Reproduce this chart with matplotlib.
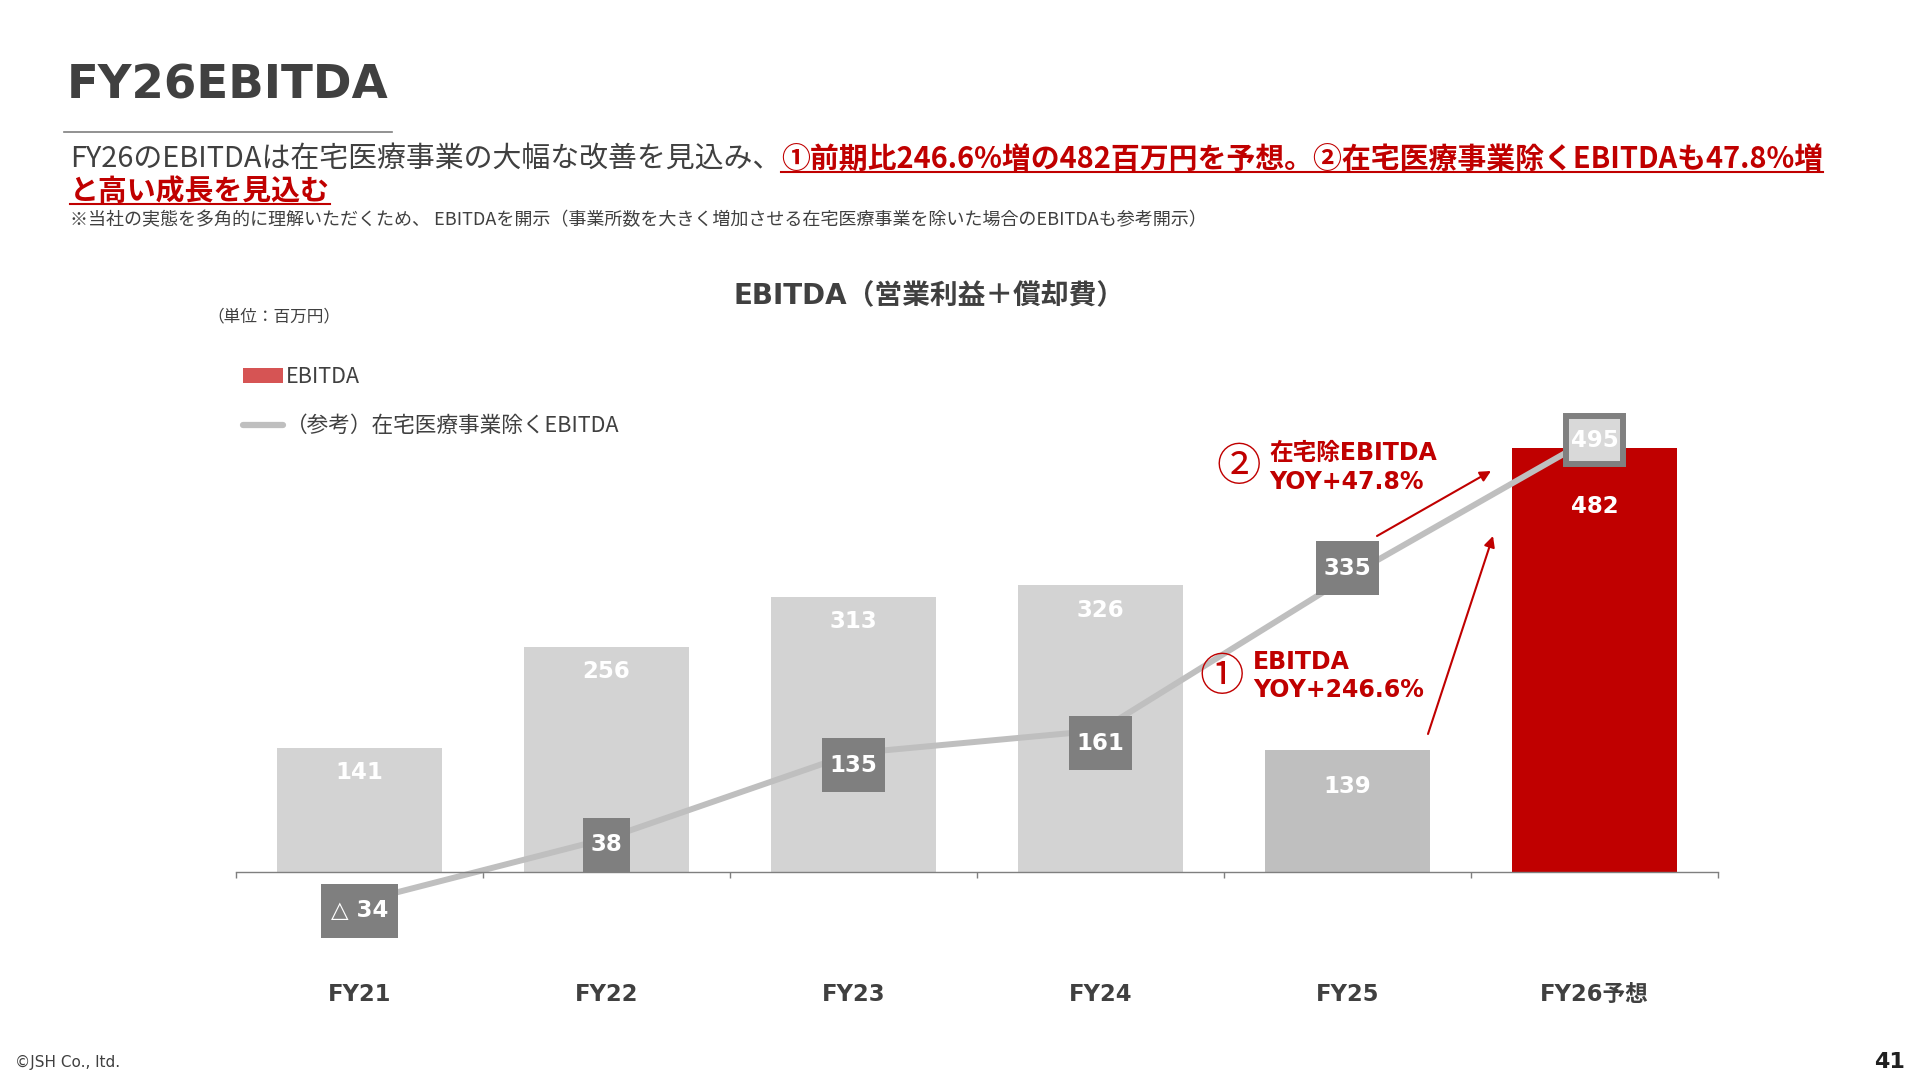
import matplotlib.pyplot as plt
from matplotlib.patches import Patch, Rectangle
from matplotlib.lines import Line2D

plt.rcParams['font.family'] = ['DejaVu Sans', 'Noto Sans CJK JP']
JP = ['Noto Sans CJK JP', 'DejaVu Sans']

# データ（単位：百万円）
years = ['FY21', 'FY22', 'FY23', 'FY24', 'FY25', 'FY26予想']
ebitda = [141, 256, 313, 326, 139, 482]
ex_home = [-34, 38, 135, 161, 335, 495]  # 在宅医療事業除くEBITDA
ex_home_labels = ['△ 34', '38', '135', '161', '335', '495']

bar_colors = ['#D3D3D3', '#D3D3D3', '#D3D3D3', '#D3D3D3', '#BFBFBF', '#C00000']
bar_label_drop = [25, 25, 25, 25, 37, 59]  # 棒の上端からラベル中心まで（px）
box_shift = [9, 6, 12, 13, -9, 4]  # ラベルボックスのずれ（px、下向き+）

W, H = 1920, 1080


def fx(px):
    return px / W


def fy(py):
    return 1 - py / H


fig = plt.figure(figsize=(19.2, 10.8), dpi=100)

# 軸の配置（ピクセル）
ax_l, ax_r = 236, 1718
y_zero, ppu = 872, 0.88  # 0の位置と1百万円あたりのpx
ymin, ymax = -90, 540
ax_top = y_zero - ymax * ppu
ax_bot = y_zero - ymin * ppu
ax = fig.add_axes([fx(ax_l), fy(ax_bot), (ax_r - ax_l) / W, (ax_bot - ax_top) / H])
ax.set_xlim(-0.5, 5.5)
ax.set_ylim(ymin, ymax)
ppx = (ax_r - ax_l) / 6  # 1カテゴリあたりのpx

x = list(range(len(years)))
ax.bar(x, ebitda, width=0.665, color=bar_colors, zorder=1)
ax.plot(x, ex_home, color='#BFBFBF', lw=4.3, zorder=2, solid_capstyle='butt')

# 棒のラベル
for i, v in enumerate(ebitda):
    ax.annotate(str(v), (i, v), xytext=(0, -bar_label_drop[i] * 0.72),
                textcoords='offset points', ha='center', va='center',
                color='white', fontsize=16.5, fontweight='bold', zorder=3)

# 在宅除EBITDAのラベルボックス
for i, v in enumerate(ex_home):
    lab = ex_home_labels[i]
    w_px = 18 + 14.7 * len(lab)
    h_px = 54
    cy = v - box_shift[i] / ppu
    if i == len(ex_home) - 1:
        rect = Rectangle((i - (w_px - 6) / 2 / ppx, cy - (h_px - 6) / 2 / ppu),
                         (w_px - 6) / ppx, (h_px - 6) / ppu,
                         facecolor='#D9D9D9', edgecolor='#808080', lw=4.3, zorder=4)
    else:
        rect = Rectangle((i - w_px / 2 / ppx, cy - h_px / 2 / ppu), w_px / ppx, h_px / ppu,
                         facecolor='#7F7F7F', edgecolor='none', zorder=4)
    ax.add_patch(rect)
    ax.text(i, cy, lab, ha='center', va='center', color='white',
            fontsize=16.5, fontweight='bold', zorder=5)

# 軸
for s in ['top', 'right', 'left']:
    ax.spines[s].set_visible(False)
ax.spines['bottom'].set_position(('data', 0))
ax.spines['bottom'].set_color('#7F7F7F')
ax.spines['bottom'].set_linewidth(1.0)
ax.set_yticks([])
ax.set_xticks(x)
ax.set_xticklabels(years, fontweight='bold', color='#404040', fontsize=16.3)
ax.set_xticks([i - 0.5 for i in range(7)], minor=True)
ax.tick_params(axis='x', which='major', length=0, pad=80)
ax.tick_params(axis='x', which='minor', length=4.5, width=1, color='#7F7F7F', direction='out')

# 凡例
handles = [Patch(facecolor='#D65454', edgecolor='none'),
           Line2D([0], [0], color='#BFBFBF', lw=4.5, solid_capstyle='round')]
ax.legend(handles, ['EBITDA', '（参考）在宅医療事業除くEBITDA'],
          loc='upper left', bbox_to_anchor=(fx(243), fy(366)), bbox_transform=fig.transFigure,
          frameon=False, prop={'family': JP, 'size': 15.6}, labelcolor='#404040',
          handlelength=1.85, handletextpad=0.15, labelspacing=1.25,
          borderpad=0, borderaxespad=0)

# タイトル類
fig.text(fx(67), fy(86), 'FY26EBITDA', fontsize=33.6, fontweight='bold', color='#404040', va='center')
fig.add_artist(Line2D([fx(64), fx(392)], [fy(132), fy(132)], color='#7F7F7F', lw=1.2))

fig.canvas.draw()
rend = fig.canvas.get_renderer()
sub1 = fig.text(fx(70), fy(159), 'FY26のEBITDAは在宅医療事業の大幅な改善を見込み、',
                fontsize=20.8, color='#404040', family=JP, va='center')
bb = sub1.get_window_extent(rend)
red1 = fig.text(bb.x1 / W, fy(159), '①前期比246.6%増の482百万円を予想。②在宅医療事業除くEBITDAも47.8%増',
                fontsize=20.8, color='#C00000', fontweight='bold', family=JP, va='center')
red2 = fig.text(fx(70), fy(191), 'と高い成長を見込む',
                fontsize=20.8, color='#C00000', fontweight='bold', family=JP, va='center')
for t, uy in [(red1, 172), (red2, 204)]:
    b = t.get_window_extent(rend)
    fig.add_artist(Line2D([b.x0 / W, b.x1 / W], [fy(uy), fy(uy)], color='#C00000', lw=1.5))

fig.text(fx(70), fy(220), '※当社の実態を多角的に理解いただくため、 EBITDAを開示（事業所数を大きく増加させる在宅医療事業を除いた場合のEBITDAも参考開示）',
         fontsize=13.0, color='#404040', family=JP, va='center')

fig.text(fx(929), fy(296), 'EBITDA（営業利益＋償却費）', fontsize=20, fontweight='bold',
         color='#404040', ha='center', va='center')
fig.text(fx(207), fy(317), '（単位：百万円）', fontsize=12, color='#404040', family=JP, va='center')

# 注記と矢印
red = '#C00000'
fig.text(fx(1239), fy(467), '②', fontsize=32, color=red, family=JP, ha='center', va='center')
fig.text(fx(1269), fy(453), '在宅除EBITDA', fontsize=17, color=red, fontweight='bold', va='center')
fig.text(fx(1269), fy(482), 'YOY+47.8%', fontsize=17, color=red, fontweight='bold', va='center')
fig.text(fx(1222), fy(677), '①', fontsize=32, color=red, family=JP, ha='center', va='center')
fig.text(fx(1253), fy(662), 'EBITDA', fontsize=17, color=red, fontweight='bold', va='center')
fig.text(fx(1253), fy(690), 'YOY+246.6%', fontsize=17, color=red, fontweight='bold', va='center')

arrow = dict(arrowstyle='-|>', color=red, lw=1.5, mutation_scale=16, shrinkA=0, shrinkB=0)
fig.add_artist(plt.Annotation('', xy=(fx(1491), fy(471)), xytext=(fx(1377), fy(536)),
                              xycoords='figure fraction', arrowprops=arrow))
fig.add_artist(plt.Annotation('', xy=(fx(1493), fy(536)), xytext=(fx(1428), fy(734)),
                              xycoords='figure fraction', arrowprops=arrow))

# フッター
fig.text(fx(15), fy(1062), '©JSH Co., ltd.', fontsize=11, color='#404040', va='center')
fig.text(fx(1905), fy(1062), '41', fontsize=16, fontweight='bold', color='#202020', ha='right', va='center')

plt.savefig('out.png', dpi=100)
